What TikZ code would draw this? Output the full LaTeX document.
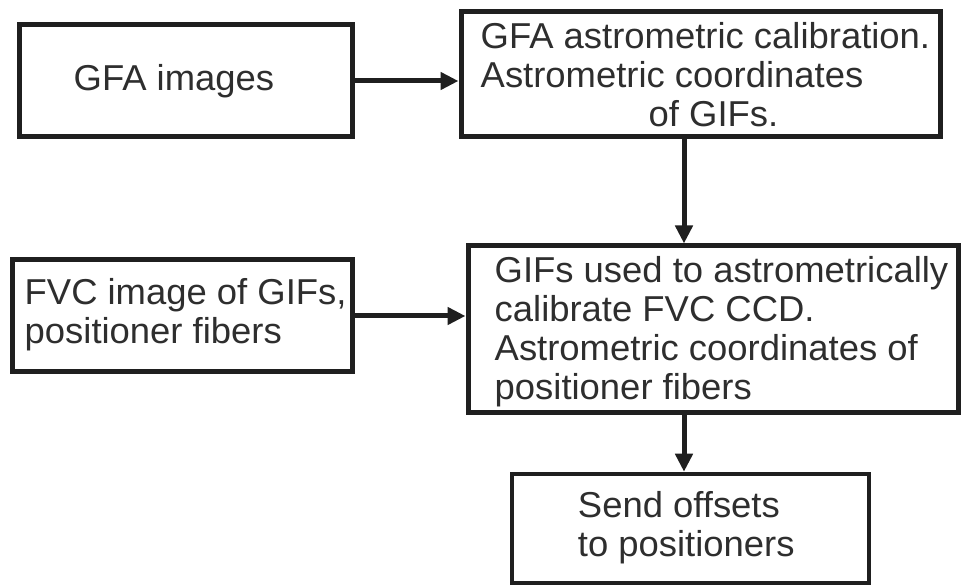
\documentclass[tikz,border=0pt]{standalone}
\usepackage{fontspec}
\setmainfont[FakeStretch=1.012]{Liberation Sans}
\usetikzlibrary{arrows.meta}
\begin{document}
\begin{tikzpicture}[x=1pt,y=-1pt,
  box/.style={draw=black!88, line width=5pt, rectangle, inner sep=0pt, fill=white},
  txt/.style={anchor=west, align=left, inner sep=0pt, text=black!82, font=\fontsize{36}{39}\selectfont},
  arr/.style={draw=black!88, line width=5pt, -{Triangle[length=18pt,width=17pt]}}]
\useasboundingbox[fill=white] (0,0) rectangle (962,585);
\node[box, minimum width=333pt, minimum height=112pt] (b1) at (185.5,81) {};
\node[box, minimum width=479pt, minimum height=125pt] (b2) at (700.5,74.5) {};
\node[box, minimum width=340pt, minimum height=112pt] (b3) at (182,316) {};
\node[box, minimum width=490pt, minimum height=167pt] (b4) at (713,329.5) {};
\node[box, line width=4.5pt, minimum width=357pt, minimum height=109pt] (b5) at (690.5,528.5) {};
\node[txt] (t1) at ([xshift=57pt]b1.west) {GFA images};
\node[txt] (t2) at ([xshift=22pt]b2.west) {GFA astrometric calibration.\\Astrometric coordinates\\\hspace*{168pt}of GIFs.};
\node[txt] (t3) at ([xshift=15pt,yshift=1pt]b3.west) {FVC image of GIFs,\\positioner fibers};
\node[txt] (t4) at ([xshift=29pt,yshift=-2pt]b4.west) {GIFs used to astrometrically\\calibrate FVC CCD.\\Astrometric coordinates of\\positioner fibers};
\node[txt] (t5) at ([xshift=68pt,yshift=1pt]b5.west) {Send offsets\\to positioners};
\coordinate (v) at (684,0);
\draw[arr] (b1.east) -- (b1.east -| b2.west);
\draw[arr] (b2.south -| v) -- (b4.north -| v);
\draw[arr] (b3.east) -- (b3.east -| b4.west);
\draw[arr] (b4.south -| v) -- (b5.north -| v);
\end{tikzpicture}
\end{document}
